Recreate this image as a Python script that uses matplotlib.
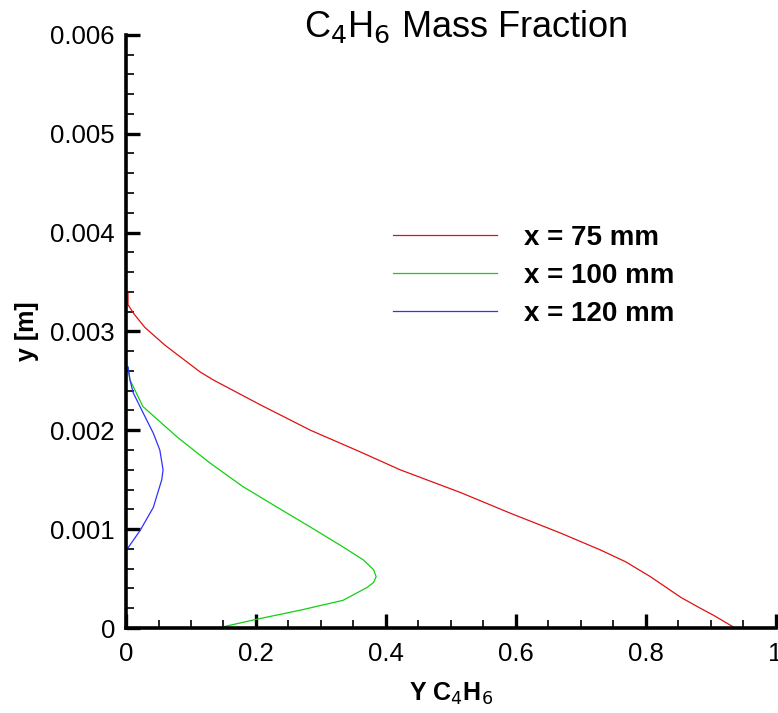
import matplotlib.pyplot as plt
from matplotlib.ticker import MultipleLocator, FuncFormatter

plt.rcParams['font.family'] = ['Liberation Sans', 'DejaVu Sans']

# C4H6 mass fraction profiles across the channel height
x75 = [0.003, 0.003, 0.013, 0.029, 0.060, 0.114, 0.134, 0.206, 0.284, 0.361, 0.422,
       0.515, 0.592, 0.669, 0.730, 0.769, 0.807, 0.854, 0.884, 0.904, 0.935]
y75 = [0.00339, 0.00327, 0.00317, 0.00304, 0.00286, 0.00259, 0.00251, 0.00226, 0.00200,
       0.00178, 0.00160, 0.00137, 0.00116, 0.00096, 0.00079, 0.00067, 0.00052, 0.00031,
       0.00020, 0.00013, 0.00001]

x100 = [0.003, 0.006, 0.026, 0.079, 0.129, 0.180, 0.233, 0.284, 0.334, 0.365, 0.381,
        0.385, 0.381, 0.371, 0.334, 0.268, 0.202, 0.148]
y100 = [0.00264, 0.00251, 0.00224, 0.00193, 0.00167, 0.00143, 0.00122, 0.00102, 0.00082,
        0.00069, 0.00059, 0.00052, 0.00046, 0.00041, 0.00028, 0.00018, 0.00009, 0.00001]

x120 = [0.003, 0.006, 0.011, 0.026, 0.042, 0.052, 0.057, 0.055, 0.042, 0.022, 0.003]
y120 = [0.00264, 0.00251, 0.00238, 0.00218, 0.00197, 0.00180, 0.00160, 0.00150, 0.00122,
        0.00099, 0.00081]

labels = ['x = 75 mm', 'x = 100 mm', 'x = 120 mm']
colors = ['#e01010', '#10d010', '#3030ff']

fig = plt.figure(figsize=(7.78, 7.13), dpi=100)
ax = fig.add_axes([0.162, 0.1192, 0.835, 0.832])

for xs, ys, lab, c in zip([x75, x100, x120], [y75, y100, y120], labels, colors):
    ax.plot(xs, ys, color=c, lw=0.9, label=lab)

ax.set_xlim(0, 1)
ax.set_ylim(0, 0.006)
ax.xaxis.set_major_locator(MultipleLocator(0.2))
ax.xaxis.set_minor_locator(MultipleLocator(0.05))
ax.yaxis.set_major_locator(MultipleLocator(0.001))
ax.yaxis.set_minor_locator(MultipleLocator(0.0002))
ax.xaxis.set_major_formatter(FuncFormatter(lambda v, p: '0' if abs(v) < 1e-9 else f'{v:g}'))
ax.yaxis.set_major_formatter(FuncFormatter(lambda v, p: '0' if abs(v) < 1e-12 else f'{v:.3f}'))

for s in ['top', 'right']:
    ax.spines[s].set_visible(False)
for s in ['left', 'bottom']:
    ax.spines[s].set_linewidth(2.6)

ax.tick_params(which='major', direction='in', length=10, width=2.4, labelsize=18.5)
ax.tick_params(axis='x', which='major', pad=10)
ax.tick_params(axis='y', which='major', pad=8)
ax.tick_params(which='minor', direction='in', length=6, width=1.2)

ax.set_xlabel('Y C$_4$H$_6$', fontsize=18, fontweight='bold', labelpad=11)
ax.set_ylabel('y [m]', fontsize=18, fontweight='bold', labelpad=8)
fig.text(0.599, 0.962, 'C$_4$H$_6$ Mass Fraction', fontsize=26, ha='center', va='center')

ax.legend(loc='upper left', bbox_to_anchor=(0.473, 0.72), bbox_transform=fig.transFigure,
          frameon=False, handlelength=3.75, handletextpad=0.95, labelspacing=0.43,
          prop={'size': 20, 'weight': 'bold'})

fig.savefig('out.png', dpi=100)
